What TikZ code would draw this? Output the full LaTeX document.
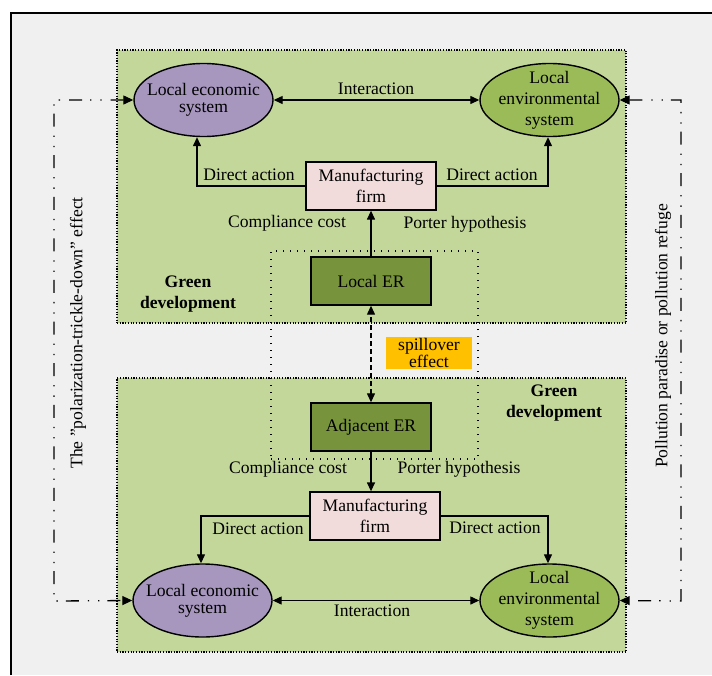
\documentclass[tikz,border=0pt]{standalone}
\usepackage{fontspec}
\setmainfont{Liberation Serif}
\usetikzlibrary{arrows.meta,shapes.geometric}
\definecolor{bgray}{HTML}{F0F0F0}
\definecolor{gfill}{HTML}{C4D79B}
\definecolor{erfill}{HTML}{77933C}
\definecolor{econfill}{HTML}{A797BF}
\definecolor{envfill}{HTML}{9BBB59}
\definecolor{firmfill}{HTML}{F2DCDB}
\definecolor{spillfill}{HTML}{FFC000}
\tikzset{
  every node/.style={font=\fontsize{17.6}{20}\selectfont, inner sep=0pt, align=center},
  greenbox/.style={draw, fill=gfill, line width=1.4pt, dash pattern=on 1.2pt off 1.5pt},
  erregion/.style={draw, line width=1.2pt, dash pattern=on 1.2pt off 5.8pt},
  erbox/.style={draw, fill=erfill, line width=1.4pt, minimum width=120pt, minimum height=48pt},
  firmbox/.style={draw, fill=firmfill, line width=1.3pt, minimum width=130pt, minimum height=48pt, font=\fontsize{17.6}{21}\selectfont},
  econell/.style={draw, ellipse, fill=econfill, line width=1.4pt, inner sep=-20pt, minimum width=139pt, minimum height=73pt, font=\fontsize{17.6}{17}\selectfont},
  envell/.style={draw, ellipse, fill=envfill, line width=1.4pt, inner sep=-20pt, minimum width=139pt, minimum height=73pt, font=\fontsize{17.6}{21}\selectfont},
  spillbox/.style={fill=spillfill, minimum width=86pt, minimum height=32pt, font=\fontsize{17.6}{16}\selectfont},
  conn/.style={line width=1.3pt, -{Triangle[length=9pt,width=8pt]}},
  bconn/.style={line width=1.3pt, {Triangle[length=9pt,width=8pt]}-{Triangle[length=9pt,width=8pt]}},
  fb/.style={line width=1.3pt, dash pattern=on 13pt off 9pt on 1.3pt off 9pt on 1.3pt off 8pt, {Triangle[length=10pt,width=9pt]}-{Triangle[length=10pt,width=9pt]}},
  gdev/.style={font=\fontsize{17.6}{21}\selectfont\bfseries}
}
\begin{document}
\begin{tikzpicture}[x=1pt,y=-1pt]
\useasboundingbox (0,0) rectangle (712,675);
% outer frame
\fill[bgray] (11,13) rectangle (712,675);
\draw[line width=1.8pt] (11,675) -- (11,13) -- (712,13);

% green development areas
\node[greenbox, minimum width=509pt, minimum height=273pt] (top) at (371.5,186.5) {};
\node[greenbox, minimum width=509pt, minimum height=274pt] (bot) at (371.5,515) {};

% ER region
\node[erregion, minimum width=207pt, minimum height=208pt] (erreg) at (374.5,355) {};

% nodes
\node[erbox] (lER) at (371,281) {Local ER};
\node[erbox] (aER) at (371,427) {Adjacent ER};
\node[spillbox] (spill) at (429,353) {spillover\\effect};
\node[firmbox] (firm1) at (371,186) {Manufacturing\\firm};
\node[firmbox] (firm2) at (375,516) {Manufacturing\\firm};
\node[econell] (econ1) at (203.5,100) {Local economic\\system};
\node[envell] (env1) at (549.5,100) {Local\\environmental\\system};
\node[econell] (econ2) at (202.5,600.5) {Local economic\\system};
\node[envell] (env2) at (549.5,600.5) {Local\\environmental\\system};

% top connectors
\draw[bconn] (econ1) -- (env1);
\draw[conn] (firm1.west) -| ([xshift=-6.5pt]econ1.south);
\draw[conn] (firm1.east) -| ([xshift=-1.5pt]env1.south);
\draw[conn] (lER) -- (firm1);
\draw[bconn, dash pattern=on 5pt off 3pt] (aER) -- (lER);
% bottom connectors
\draw[conn] (aER.south) -- (aER.south |- firm2.north);
\draw[conn] (firm2.west) -| ([xshift=-1.5pt]econ2.north);
\draw[conn] (firm2.east) -| ([xshift=-1.5pt]env2.north);
\draw[bconn] (econ2) -- (env2);

% labels
\node (int1) at (376,89) {Interaction};
\node (da1) at (249,175) {Direct action};
\node (da2) at (492,175) {Direct action};
\node (cc1) at (287,223) {Compliance cost};
\node (ph1) at (465,224) {Porter hypothesis};
\node[gdev] (gd1) at (188,294) {Green\\development};
\node[gdev] (gd2) at (554,403) {Green\\development};
\node (cc2) at (288,469) {Compliance cost};
\node (ph2) at (459,469) {Porter hypothesis};
\node (da3) at (258,529) {Direct action};
\node (da4) at (495,528) {Direct action};
\node (int2) at (372,611) {Interaction};

% feedback loops
\coordinate (L1) at (54,100);
\coordinate (L2) at (54,601);
\coordinate (R1) at (681,100);
\coordinate (R2) at (681,601);
\draw[fb] (econ1.west) -- (L1) -- (L2) -- (econ2.west);
\draw[fb] (env1.east) -- (R1) -- (R2) -- (env2.east);
\node[rotate=90] (lt) at (78,333) {The \char34 polarization-trickle-down\char34{} effect};
\node[rotate=90] (rt) at (663,336) {Pollution paradise or pollution refuge};
\end{tikzpicture}
\end{document}
